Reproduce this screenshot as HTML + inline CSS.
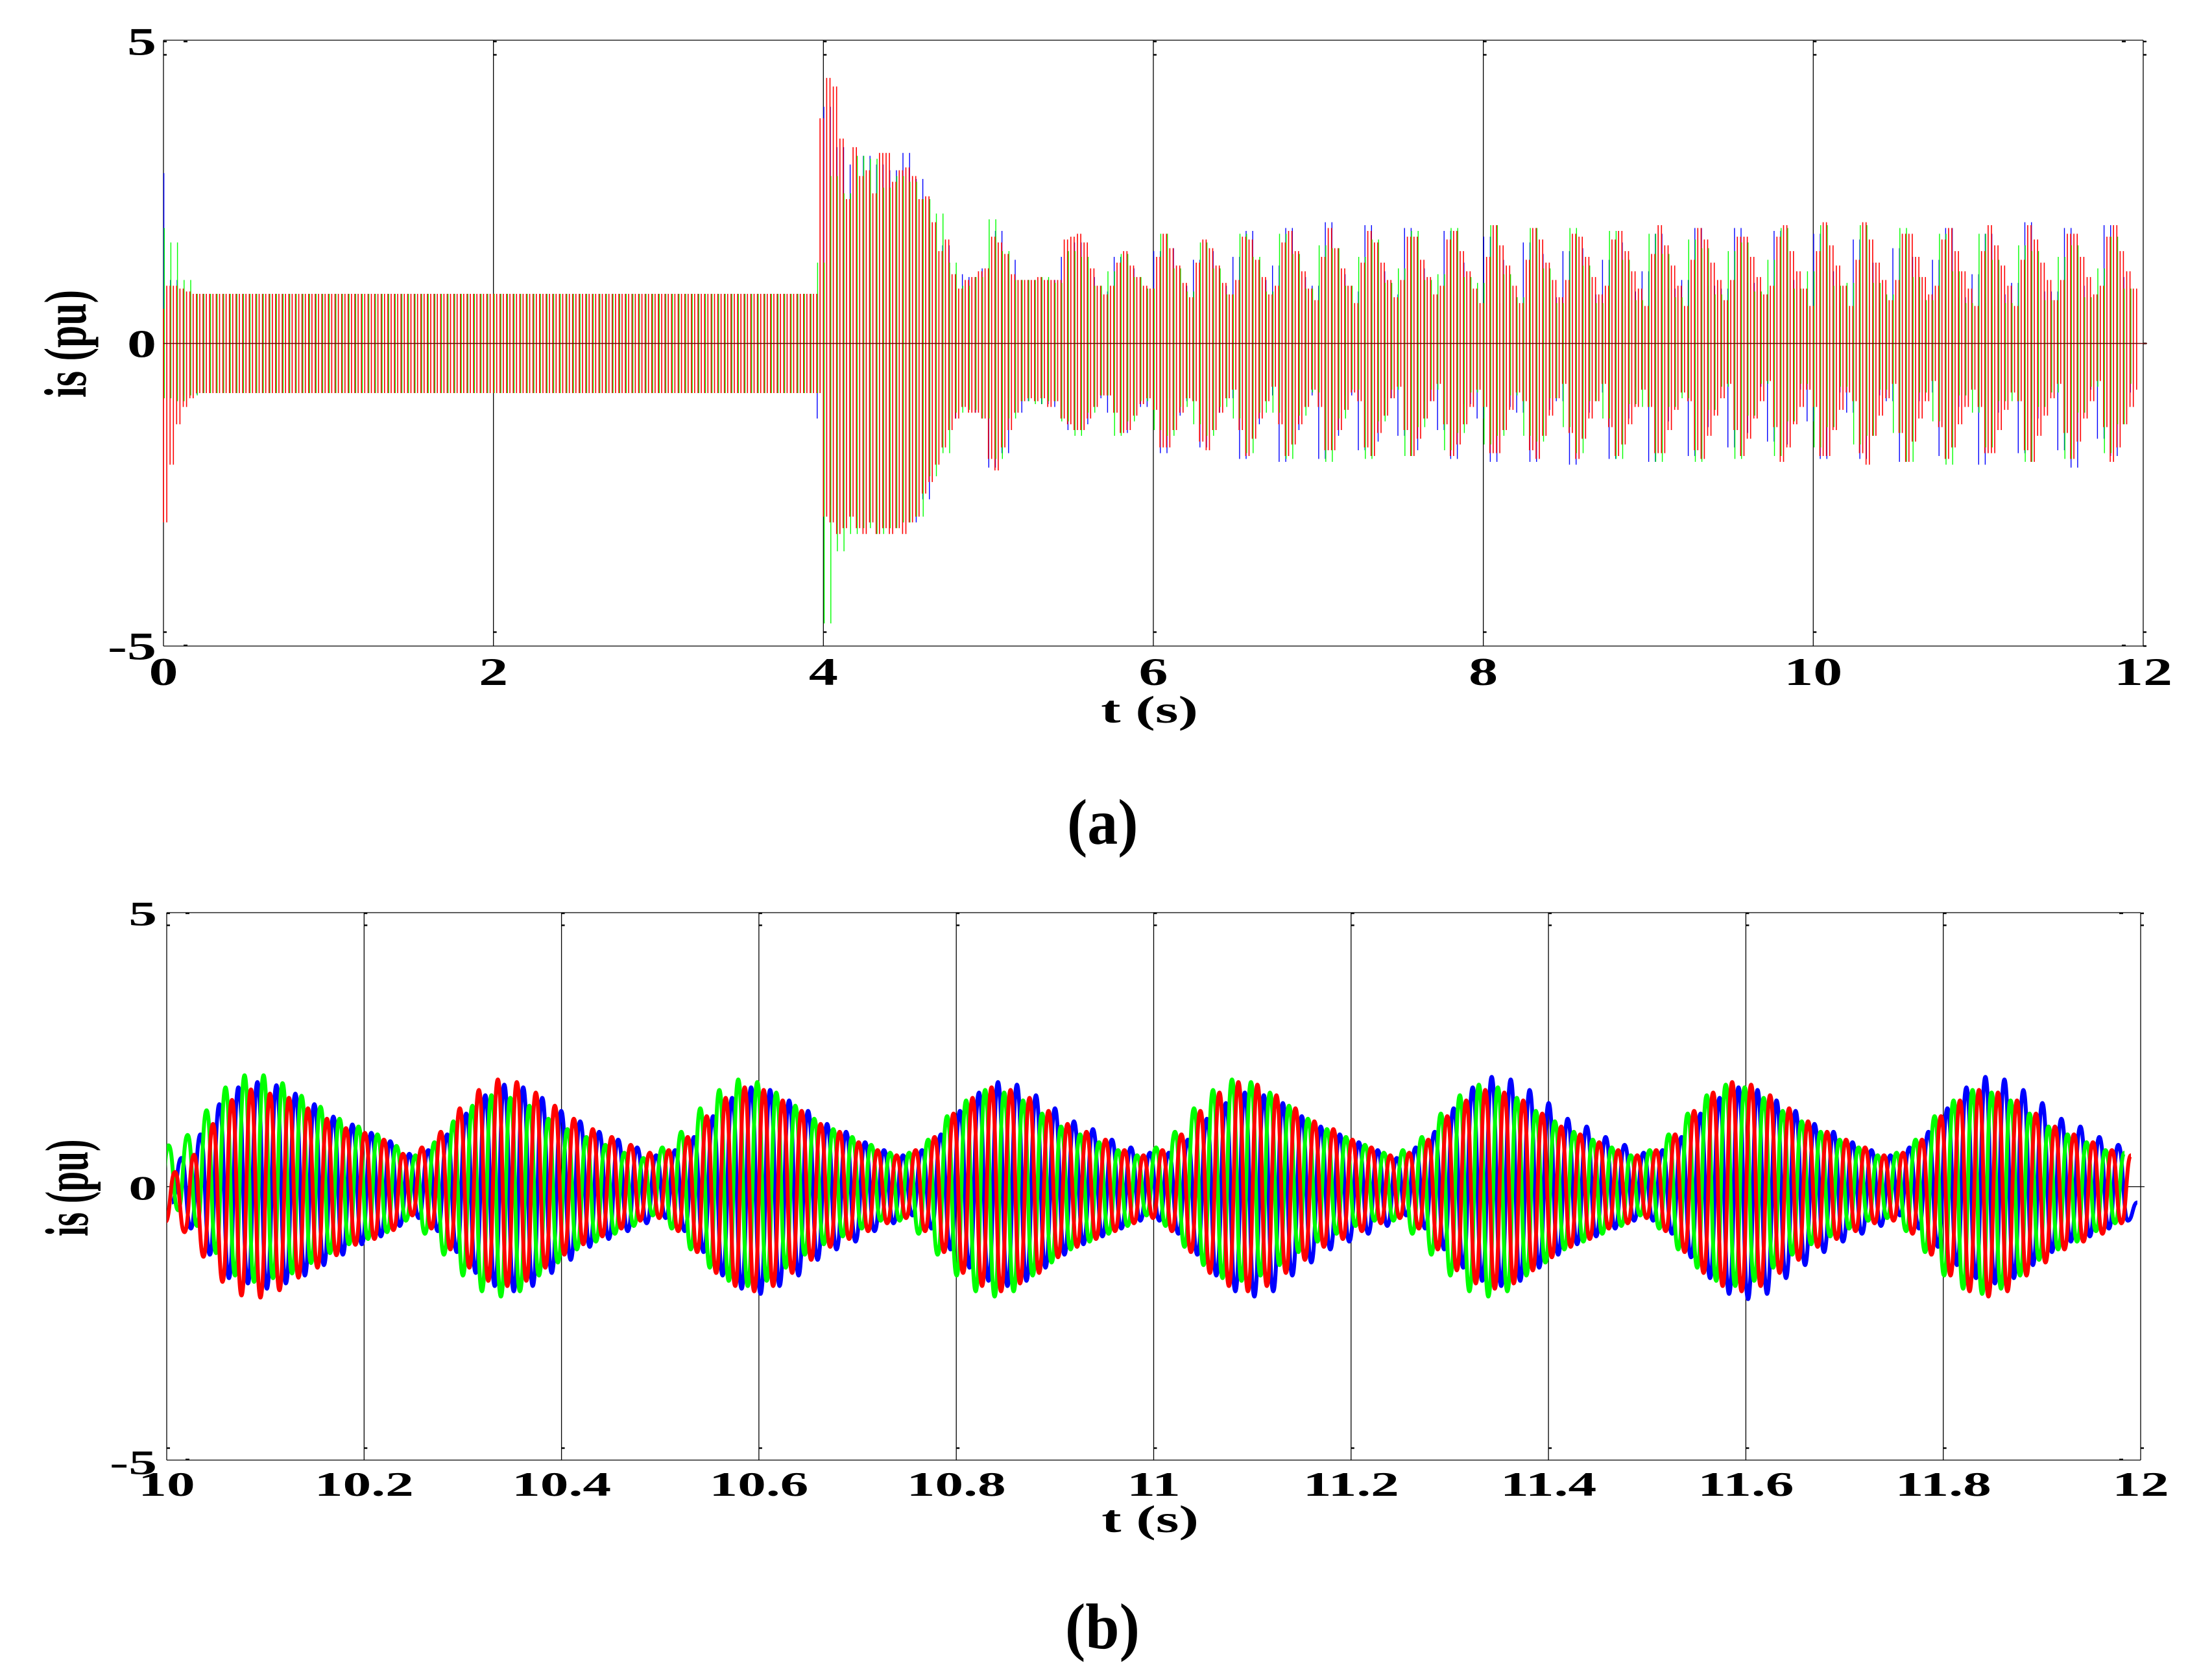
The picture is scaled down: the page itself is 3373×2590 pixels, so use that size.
<!DOCTYPE html>
<html lang="en">
<head>
<meta charset="utf-8">
<title>Stator current is (pu)</title>
<style>
html,body{margin:0;padding:0;background:#fff;}
svg{display:block;}
text{font-family:"Liberation Serif",serif;font-weight:bold;fill:#000;}
</style>
</head>
<body>
<svg id="fig" xmlns="http://www.w3.org/2000/svg" width="3373" height="2590" viewBox="0 0 3373 2590">
<defs>
<clipPath id="clipB"><rect x="257" y="1407" width="3043" height="844"/></clipPath>
</defs>
<rect x="0" y="0" width="3373" height="2590" fill="#fff"/>
<g id="chartA"></g>
<g id="chartB"></g>
<text transform="translate(1645,1301) scale(.94,1)" font-size="100">(a)</text>
<text transform="translate(1642,2541) scale(.94,1)" font-size="100">(b)</text>
</svg>
<script>
// ---------- chart (a) data: is in pu, alternating peak / trough readings ----------
const xTicksA = [0, 2, 4, 6, 8, 10, 12];
const yTicksA = [-5, 0, 5];
const xTicksB = [10, 10.2, 10.4, 10.6, 10.8, 11, 11.2, 11.4, 11.6, 11.8, 12];
const xTickLabelsB = ['10', '10.2', '10.4', '10.6', '10.8', '11', '11.2', '11.4', '11.6', '11.8', '12'];
const yTicksB = [-5, 0, 5];

const redA = [
.6,-3.1,1,-2.1,1,-1.4,.95,-1.1,.9,-.95,
.86,-.86,.86,-.86,.86,-.86,.86,-.86,.86,-.86,.86,-.86,.86,-.86,.86,-.86,.86,-.86,.86,-.86,
.86,-.86,.86,-.86,.86,-.86,.86,-.86,.86,-.86,.86,-.86,.86,-.86,.86,-.86,.86,-.86,.86,-.86,
.86,-.86,.86,-.86,.86,-.86,.86,-.86,.86,-.86,.86,-.86,.86,-.86,.86,-.86,.86,-.86,.86,-.86,
.86,-.86,.86,-.86,.86,-.86,.86,-.86,.86,-.86,.86,-.86,.86,-.86,.86,-.86,.86,-.86,.86,-.86,
.86,-.86,.86,-.86,.86,-.86,.86,-.86,.86,-.86,.86,-.86,.86,-.86,.86,-.86,.86,-.86,.86,-.86,
.86,-.86,.86,-.86,.86,-.86,.86,-.86,.86,-.86,.86,-.86,.86,-.86,.86,-.86,.86,-.86,.86,-.86,
.86,-.86,.86,-.86,.86,-.86,.86,-.86,.86,-.86,.86,-.86,.86,-.86,.86,-.86,.86,-.86,.86,-.86,
.86,-.86,.86,-.86,.86,-.86,.86,-.86,.86,-.86,.86,-.86,.86,-.86,.86,-.86,.86,-.86,.86,-.86,
.86,-.86,.86,-.86,.86,-.86,.86,-.86,.86,-.86,.86,-.86,.86,-.86,.86,-.86,.86,-.86,.86,-.86,
.86,-.86,.86,-.86,.86,-.86,.86,-.86,.86,-.86,
3.9,-3,4.6,-3.1,4.45,-3.3,3.55,-3.2,2.5,-3,
3.4,-3.2,2.9,-3.3,3,-3.1,2.6,-3.3,3.3,-3.2,3.3,-3.3,2.8,-3.2,3,-3.3,3.05,-3.1,2.9,-3,
2.5,-2.6,2.55,-2.4,2.1,-2.1,1.6,-1.8,1.8,-1.5,
1.2,-1.3,.95,-1.1,1.1,-1.2,1.15,-1.2,1.25,-1.3,
1.3,-2,1.85,-2.2,1.75,-1.8,1.55,-1.5,1.2,-1.2,
1.1,-1,1.1,-.95,1.1,-1,1.15,-.95,1.1,-1.1,1.1,-1,1.1,-1.3,1.8,
-1.4,1.85,-1.5,1.9,-1.5,1.75,-1.3,1.3,-1.1,1,-.9,.85,
-.9,1,-1.2,1.4,-1.55,1.6,-1.5,1.35,-1.25,1.15,-1.05,1,-.95,
.95,-1.15,1.5,-1.8,1.9,-1.8,1.65,-1.5,1.35,-1.2,1.05,-.95,
.8,-1,1.4,-1.7,1.8,-1.85,1.65,-1.5,1.35,-1.2,1.05,-.95,.85,
-.8,1.1,-1.5,1.85,-1.95,1.8,-1.65,1.45,-1.3,1.15,-1,.85,
-.75,1,-1.4,1.75,-1.95,1.95,-1.75,1.6,-1.4,1.25,-1.1,.95,-.8,
.75,-1.1,1.5,-1.85,2,-1.85,1.65,-1.5,1.3,-1.15,1,-.85,
.7,-1,1.4,-1.8,1.95,-1.95,1.75,-1.55,1.4,-1.25,1.1,-.95,.8,
-.75,1.1,-1.5,1.85,-1.95,1.85,-1.65,1.45,-1.3,1.15,-1,.85,
-.7,1,-1.4,1.8,-1.95,1.95,-1.75,1.6,-1.4,1.25,-1.1,.95,-.8,
.7,-1.1,1.5,-1.9,2.05,-1.9,1.7,-1.5,1.35,-1.15,1,-.85,
.7,-1,1.45,-1.85,2,-2,1.8,-1.6,1.4,-1.25,1.1,-.95,.8,
-.7,1.1,-1.55,1.9,-2,1.85,-1.65,1.5,-1.3,1.15,-1,.85,
-.7,1,-1.45,1.8,-1.95,1.95,-1.75,1.6,-1.4,1.25,-1.1,.95,-.8,
.65,-1.1,1.55,-1.9,2.05,-1.9,1.7,-1.5,1.35,-1.15,1,-.85,
.65,-1,1.45,-1.85,2,-2,1.8,-1.6,1.4,-1.25,1.1,-.95,.75,
-.7,1.1,-1.5,1.85,-1.95,1.85,-1.65,1.5,-1.3,1.15,-1,.85,
-.65,1,-1.45,1.85,-2.05,2.05,-1.8,1.6,-1.4,1.25,-1.1,.95,-.8,
.65,-1.1,1.6,-1.95,2.1,-1.95,1.7,-1.5,1.35,-1.15,1,-.85,
.65,-1,1.45,-1.9,2.1,-2.1,1.8,-1.6,1.4,-1.25,1.1,-.95,.75,
-.7,1.1,-1.55,1.9,-2.05,1.9,-1.7,1.5,-1.3,1.15,-1,.85,
-.65,1,-1.45,1.8,-2,2,-1.8,1.6,-1.4,1.25,-1.1,.95,-.8,
.65,-1.1,1.6,-1.9,2.05,-1.9,1.7,-1.5,1.35,-1.15,1,-.85,
.65,-1,1.45,-1.85,2.05,-2.05,1.8,-1.6,1.4,-1.25,1.1,-.95,.75,
-.7,1.1,-1.55,1.9,-2,1.9,-1.7,1.5,-1.3,1.15,-1,.85,
-.65,1,-1.45,1.85,-2.05,2.05,-1.8,1.6,-1.4,1.25,-1.1,.95,-.8
];
const greenA = [
2,-.95,1.75,-1,1.1,-.9,
.86,-.86,.86,-.86,.86,-.86,.86,-.86,.86,-.86,.86,-.86,.86,-.86,.86,-.86,.86,-.86,.86,-.86,
.86,-.86,.86,-.86,.86,-.86,.86,-.86,.86,-.86,.86,-.86,.86,-.86,.86,-.86,.86,-.86,.86,-.86,
.86,-.86,.86,-.86,.86,-.86,.86,-.86,.86,-.86,.86,-.86,.86,-.86,.86,-.86,.86,-.86,.86,-.86,
.86,-.86,.86,-.86,.86,-.86,.86,-.86,.86,-.86,.86,-.86,.86,-.86,.86,-.86,.86,-.86,.86,-.86,
.86,-.86,.86,-.86,.86,-.86,.86,-.86,.86,-.86,.86,-.86,.86,-.86,
1.4,-4.85,2.9,-3.6,2.6,-3.3,3.25,-3.2,3.2,-3.3,2.7,-3.2,2.9,-3.1,2.8,-3,2.5,-2.3,2.25,-1.9,
1.4,-1.2,1,-1.15,1.15,-1.3,2.15,-2,1.6,-1.3,1.1,-1,1.1,-1.05,1.15,-1,1.05,-1.35,1.6,-1.6,
1.5,-1.2,1,-.9,1.25,-1.6,1.55,-1.35,1.15,-1,.95,-1.5,1.9,-1.6,1.3,-1.1,.9,-1.4,1.75,-1.6,
1.3,-1.1,.85,-1.3,1.9,-1.9,1.5,-1.2,.9,-1.2,1.9,-2,1.55,-1.25,.95,-.85,1.7,-2.05,1.65,-1.3,
1,-.8,1.5,-2,1.8,-1.35,1.05,-.8,1.3,-1.95,1.95,-1.45,1.1,-.8,1.2,-1.85,2,-1.55,1.15,-.85,
1.05,-1.75,2.05,-1.6,1.2,-.9,.8,-1.6,2,-1.7,1.3,-.95,.7,-1.45,2,-1.9,1.35,-1,.7,-1.3,
1.95,-2,1.45,-1.05,.75,-1.1,1.9,-2.05,1.55,-1.1,.8,-.95,1.8,-2.05,1.65,-1.15,.85,-.75,1.6,-2,
1.75,-1.25,.9,-.7,1.45,-1.95,2,-1.35,.95,-.7,1.25,-1.8,2.05,-1.45,1,-.75,1.05,-1.75,2.05,-1.6,
1.05,-.8,.85,-1.55,2,-2.05,1.15,-.85,.75,-1.35,1.9,-2.1,1.25,-.9,.7,-1.2,1.9,-1.8,1.45,-1,
.7,-1,1.7,-2.05,1.6,-1.1,.75,-.85,1.5,-2,1.7,-1.2,.8,-.75,1.3,-1.9,1.85,-1.4,.95,-.7
];
const blueA = [
2.95,-.95,1.1,-.9,.9,-.88,
.86,-.86,.86,-.86,.86,-.86,.86,-.86,.86,-.86,.86,-.86,.86,-.86,.86,-.86,.86,-.86,.86,-.86,
.86,-.86,.86,-.86,.86,-.86,.86,-.86,.86,-.86,.86,-.86,.86,-.86,.86,-.86,.86,-.86,.86,-.86,
.86,-.86,.86,-.86,.86,-.86,.86,-.86,.86,-.86,.86,-.86,.86,-.86,.86,-.86,.86,-.86,.86,-.86,
.86,-.86,.86,-.86,.86,-.86,.86,-.86,.86,-.86,.86,-.86,.86,-.86,.86,-.86,.86,-.86,.86,-.86,
.86,-.86,.86,-.86,.86,-.86,.86,-.86,.86,-.86,.86,-.86,.86,-.86,
-1.3,4.1,-2.8,3.4,-2.9,3.1,-3,3.25,-3.1,3.1,-3.2,3,-3.1,3.3,-3.1,2.85,-2.7,2,-1.8,1.7,
-1.3,1.2,-1.1,1.15,-1.2,1.3,-2.15,1.95,-1.9,1.45,-1.2,1.1,-1,1.1,-1.05,1.1,-1.1,1.5,-1.5,1.75,
-1.4,1.15,-.95,.9,-1.2,1.5,-1.55,1.3,-1.1,.95,-1.1,1.6,-1.9,1.65,-1.25,1,-1,1.45,-1.8,1.6,
-1.2,1,-.95,1.5,-2,1.95,-1.4,1.1,-.9,1.35,-2.05,2,-1.5,1.15,-.9,1,-2,2.1,-1.6,1.2,
-.9,.9,-1.85,2.05,-1.7,1.25,-.95,.85,-1.6,2,-1.85,1.3,-1,.8,-1.5,1.95,-2,1.4,-1.05,.8,
-1.3,1.85,-2.05,1.45,-1.1,.8,-1.2,1.75,-2.05,1.55,-1.15,.8,-1,1.6,-2.1,1.65,-1.2,.85,-.85,1.45,
-2,1.75,-1.3,.9,-.75,1.25,-2.05,1.9,-1.35,.95,-.7,1.1,-1.95,2,-1.45,1,-.7,.95,-1.8,2,
-1.55,1.05,-.75,.85,-1.7,1.95,-1.75,1.1,-.8,.75,-1.35,1.9,-2,1.25,-.85,.7,-1.2,1.8,-2,1.4,
-.9,.7,-1,1.65,-2.05,1.5,-1,.75,-.85,1.45,-1.95,2,-1.1,.8,-.7,1.2,-2.1,1.9,-1.2,.85,
-.7,1.05,-1.9,2.1,-1.3,.9,-.75,.9,-1.85,2,-2.15,1,-.8,.8,-1.65,2.05,-1.95,1.15,-.85,.75
];
// time of first reading and spacing of readings, seconds
const redAStart = 0, redAStep = 0.02;
const greenAStart = 0.005, greenAStep = 0.04;
const blueAStart = 0.0025, blueAStep = 0.04;

// ---------- chart (b) data: half-cycle extremes, pu ----------
const redB = [
-.67,.28,-.87,.61,-1.34,1.2,-1.82,1.66,-2.08,1.86,-2.12,1.78,-1.98,1.7,-1.74,1.5,-1.55,1.3,-1.31,1.12,-1.11,1.03,-1,.9,-.83,.63,
-.55,.75,-.8,1.05,-1.2,1.5,-1.55,1.85,-1.8,2.05,-1.9,2,-1.8,1.8,-1.55,1.55,-1.3,1.3,-1.1,1.1,-.95,.95,-.8,.8,-.65,.65,
-.6,.7,-.85,.95,-1.25,1.35,-1.65,1.7,-1.9,1.9,-2,1.85,-1.9,1.65,-1.65,1.45,-1.4,1.2,-1.15,1.05,-1,.85,-.85,.7,-.7,.6,
-.6,.7,-.85,.95,-1.25,1.4,-1.65,1.7,-1.9,1.9,-2,1.85,-1.85,1.7,-1.65,1.45,-1.35,1.2,-1.15,1.05,-1,.9,-.85,.7,-.7,.6,
-.6,.7,-.85,1,-1.25,1.45,-1.65,1.8,-1.9,2,-2,1.95,-1.9,1.75,-1.65,1.5,-1.4,1.25,-1.15,1.1,-1,.9,-.85,.75,-.7,.6,
-.6,.65,-.8,.9,-1.2,1.35,-1.6,1.65,-1.85,1.85,-1.95,1.8,-1.85,1.65,-1.6,1.4,-1.35,1.15,-1.15,1,-1,.85,-.8,.7,-.7,.6,
-.6,.7,-.85,1,-1.25,1.45,-1.65,1.8,-1.9,2,-2,1.95,-1.9,1.75,-1.65,1.5,-1.4,1.25,-1.15,1.05,-1,.9,-.85,.75,-.7,.6,
-.65,.65,-.9,.9,-1.3,1.35,-1.7,1.65,-2,1.85,-2.1,1.8,-2,1.65,-1.7,1.4,-1.45,1.15,-1.2,1,-1.05,.85,-.9,.7,-.7,.6
];
const greenB = [
-.6,.79,-.45,.99,-.75,1.46,-1.27,1.9,-1.7,2.13,-1.82,2.13,-1.75,1.98,-1.66,1.74,-1.46,1.53,-1.27,1.3,-1.1,1.15,-1,1,-.87,.78,
-.65,.6,-.9,.85,-1.3,1.25,-1.7,1.55,-2,1.75,-2.1,1.7,-2,1.55,-1.7,1.3,-1.45,1.1,-1.2,.95,-1.05,.8,-.9,.65,-.75,.55,
-.55,.75,-.8,1.05,-1.2,1.5,-1.55,1.85,-1.8,2.05,-1.9,2,-1.8,1.8,-1.55,1.55,-1.3,1.3,-1.1,1.1,-.95,.95,-.8,.8,-.65,.65,
-.65,.65,-.9,.9,-1.3,1.35,-1.7,1.65,-2,1.85,-2.1,1.8,-2,1.65,-1.7,1.4,-1.45,1.15,-1.2,1,-1.05,.85,-.9,.7,-.75,.6,
-.55,.75,-.75,1.05,-1.15,1.5,-1.5,1.85,-1.75,2.05,-1.8,2,-1.7,1.8,-1.5,1.55,-1.25,1.3,-1.05,1.1,-.9,.95,-.75,.8,-.65,.65,
-.65,.7,-.9,.95,-1.3,1.4,-1.7,1.75,-2,1.95,-2.1,1.9,-2,1.7,-1.7,1.45,-1.45,1.25,-1.2,1.05,-1.05,.9,-.9,.75,-.75,.6,
-.55,.7,-.8,1,-1.2,1.4,-1.55,1.75,-1.8,1.95,-1.9,1.9,-1.8,1.7,-1.55,1.45,-1.3,1.25,-1.1,1.05,-.95,.9,-.8,.75,-.65,.6,
-.6,.65,-.85,.9,-1.25,1.35,-1.7,1.65,-1.95,1.85,-2.05,1.8,-1.95,1.65,-1.7,1.4,-1.4,1.15,-1.2,1,-1.05,.85,-.85,.7,-.7,.65
];
const blueB = [
-.3,.55,-.8,1,-1.3,1.58,-1.75,1.9,-1.85,2,-1.95,1.94,-1.85,1.78,-1.7,1.58,-1.5,1.34,-1.3,1.19,-1.1,1.03,-.95,.87,-.75,.63,
-.6,.7,-.85,1,-1.25,1.4,-1.65,1.75,-1.9,1.95,-2,1.9,-1.9,1.7,-1.65,1.45,-1.4,1.25,-1.15,1.05,-1,.9,-.85,.75,-.7,.6,
-.6,.7,-.85,.95,-1.25,1.35,-1.7,1.7,-1.95,1.9,-2.05,1.85,-1.9,1.65,-1.7,1.45,-1.4,1.2,-1.2,1.05,-1.05,.85,-.85,.7,-.7,.6,
-.55,.7,-.8,1,-1.2,1.45,-1.55,1.8,-1.8,2,-1.9,1.95,-1.8,1.75,-1.55,1.5,-1.3,1.25,-1.1,1.1,-.95,.9,-.8,.75,-.65,.65,
-.65,.65,-.9,.9,-1.3,1.3,-1.7,1.6,-2,1.8,-2.1,1.75,-2,1.6,-1.7,1.35,-1.45,1.15,-1.2,1,-1.05,.85,-.9,.7,-.75,.55,
-.55,.75,-.8,1.05,-1.2,1.5,-1.55,1.9,-1.8,2.1,-1.9,2.05,-1.8,1.85,-1.55,1.6,-1.3,1.3,-1.1,1.15,-.95,.95,-.8,.8,-.65,.65,
-.65,.7,-.9,.95,-1.35,1.4,-1.75,1.7,-2.05,1.9,-2.15,1.85,-2.05,1.65,-1.75,1.45,-1.5,1.2,-1.25,1.05,-1.05,.85,-.9,.7,-.75,.6,
-.55,.75,-.8,1.05,-1.15,1.5,-1.5,1.9,-1.75,2.1,-1.85,2.05,-1.75,1.85,-1.5,1.6,-1.25,1.3,-1.05,1.15,-.95,.95,-.8,.8,-.65,-.3
];
const redBStart = 9.9988, greenBStart = 9.9923, blueBStart = 10.0053, halfCycleB = 0.00962;

// ---------- axis functions ----------
const NS = 'http://www.w3.org/2000/svg';
function xA(t){ return 252 + (t - 0) * 254.33; }
function yA(v){ return 529.5 - v * 89; }
function xB(t){ return 257 + (t - 10) * 1521.5; }
function yB(v){ return 1829.5 - v * 80.6; }

function make(tag, parent, props){
  const e = document.createElementNS(NS, tag);
  for (const k in props) e.setAttribute(k, props[k]);
  parent.appendChild(e);
  return e;
}
function vLine(parent, x, y1, y2, w, name){
  const l = make('line', parent, {x1:x, x2:x, y1:y1, y2:y2, stroke:'#000', 'stroke-width':w});
  
  
  return l;
}
function hLine(parent, x1, x2, y, w, color, name){
  const l = make('line', parent, {x1:x1, x2:x2, y1:y, y2:y, stroke:color, 'stroke-width':w});
  
  
  return l;
}
function label(parent, str, x, y, size, sx, anchor, name){
  const t = make('text', parent, {transform:'translate('+x+','+y+') scale('+sx+',1)', 'font-size':size, 'text-anchor':anchor});
  t.textContent = str;
  
  
  return t;
}
// each reading gives one vertical stroke running to the next reading
function strokesPath(values, start, step, xf, yf){
  let d = '';
  for (let i = 0; i + 1 < values.length; i++){
    const x = xf(start + i * step).toFixed(1);
    d += 'M' + x + ' ' + yf(values[i]).toFixed(1) + 'V' + yf(values[i + 1]).toFixed(1);
  }
  return d;
}
// smooth curve through the half-cycle extremes
function wavePath(values, start, step, xf, yf){
  let d = 'M' + xf(start).toFixed(1) + ' ' + yf(values[0]).toFixed(1);
  for (let i = 1; i < values.length; i++){
    const x0 = xf(start + (i - 1) * step), x1 = xf(start + i * step);
    const h = (x1 - x0) * 0.5;
    d += 'C' + (x0 + h).toFixed(1) + ' ' + yf(values[i - 1]).toFixed(1) + ' ' + (x1 - h).toFixed(1) + ' ' + yf(values[i]).toFixed(1) + ' ' + x1.toFixed(1) + ' ' + yf(values[i]).toFixed(1);
  }
  return d;
}

// ---------- chart (a) ----------
const gA = document.getElementById('chartA');
const seriesA = [
  {v: blueA, s: blueAStart, st: blueAStep, c: '#0000ff', w: 1.4, n: 'series-blue-a'},
  {v: greenA, s: greenAStart, st: greenAStep, c: '#00ff00', w: 1.4, n: 'series-green-a'},
  {v: redA, s: redAStart, st: redAStep, c: '#ff0000', w: 1.6, n: 'series-red-a'}
];
hLine(gA, 252, 3304, 62, 1.3, '#000', 'plot-top-border-a');
hLine(gA, 252, 3304, 996, 1.3, '#000', 'plot-bottom-border-a');
xTicksA.forEach(function(t){
  const x = xA(t);
  vLine(gA, x, 62, 996, 1.3, 'x-gridline-a');
  yTicksA.forEach(function(v){
    if (v !== 0 || t === 12) hLine(gA, x, x + 5, yA(v), 2.4, '#000', 'y-tick-a');
  });
  hLine(gA, x, x + 5, 64, 2.4, '#000', 'y-tick-a');
  if (t === 12) hLine(gA, x, x + 5, 996, 2.4, '#000', 'y-tick-a');
  label(gA, String(t), x, 1056, 60, 1.5, 'middle', 'x-tick-label-a');
});
[xA(0) + 34, xA(12) - 30].forEach(function(x){
  hLine(gA, x - 3, x + 3, 64, 2.4, '#000', 'x-tick-a');
  hLine(gA, x - 3, x + 3, 995, 2.4, '#000', 'x-tick-a');
});
seriesA.forEach(function(s){
  const p = make('path', gA, {d: strokesPath(s.v, s.s, s.st, xA, yA), fill:'none', stroke:s.c, 'stroke-width':s.w});
  
  
});
hLine(gA, 252, 3310, yA(0), 1.5, '#6a0808', 'zero-line-a');
yTicksA.forEach(function(v){
  label(gA, String(v), 241, yA(v) + 21 - 4.2 * v, 60, 1.5, 'end', 'y-tick-label-a');
});
const titleYA = make('text', gA, {transform:'translate(132,613) rotate(-90) scale(.67,1)', 'font-size':92});
titleYA.textContent = 'is (pu)';


label(gA, 't (s)', 1772, 1114, 59, 1.55, 'middle', 'x-axis-title-a');

// ---------- chart (b) ----------
const gB = document.getElementById('chartB');
const seriesB = [
  {v: blueB, s: blueBStart, c: '#0000ff', n: 'series-blue-b'},
  {v: greenB, s: greenBStart, c: '#00ff00', n: 'series-green-b'},
  {v: redB, s: redBStart, c: '#ff0000', n: 'series-red-b'}
];
hLine(gB, 257, 3300, 1407, 1.3, '#000', 'plot-top-border-b');
hLine(gB, 257, 3300, 2251, 1.3, '#000', 'plot-bottom-border-b');
hLine(gB, 257, 3306, yB(0), 1.3, '#000', 'zero-line-b');
xTicksB.forEach(function(t, i){
  const x = xB(t);
  vLine(gB, x, 1407, 2251, 1.3, 'x-gridline-b');
  yTicksB.forEach(function(v){
    if (v !== 0) hLine(gB, x, x + 5, yB(v), 2.4, '#000', 'y-tick-b');
  });
  hLine(gB, x, x + 5, 1408, 2.4, '#000', 'y-tick-b');
  label(gB, xTickLabelsB[i], x, 2306, 53, 1.65, 'middle', 'x-tick-label-b');
});
[xB(10) + 32, xB(12) - 30].forEach(function(x){
  hLine(gB, x - 3, x + 3, 1408, 2.4, '#000', 'x-tick-b');
  hLine(gB, x - 3, x + 3, 2250, 2.4, '#000', 'x-tick-b');
});
seriesB.forEach(function(s){
  const p = make('path', gB, {d: wavePath(s.v, s.s, halfCycleB, xB, yB), fill:'none', stroke:s.c, 'stroke-width':6, 'stroke-linejoin':'round', 'clip-path':'url(#clipB)'});
  
  
});
yTicksB.forEach(function(v){
  label(gB, String(v), 242, yB(v) + 20 - 4 * v, 53, 1.65, 'end', 'y-tick-label-b');
});
const titleYB = make('text', gB, {transform:'translate(135,1906) rotate(-90) scale(.59,1)', 'font-size':94});
titleYB.textContent = 'is (pu)';


label(gB, 't (s)', 1773, 2362, 59, 1.55, 'middle', 'x-axis-title-b');
</script>
</body>
</html>
